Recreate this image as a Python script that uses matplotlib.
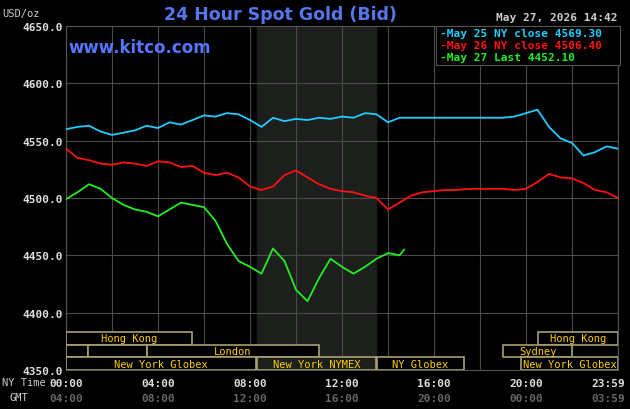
import matplotlib
matplotlib.use("Agg")
import matplotlib.pyplot as plt
from matplotlib.patches import Rectangle

h_full = [i*0.5 for i in range(49)]
cyan = [4560,4562,4563,4558,4555,4557,4559,4563,4561,4566,4564,4568,4572,4571,4574,4573,4568,4562,4570,4567,4569,4568,4570,4569,4571,4570,4574,4573,4566,4570,4570,4570,4570,4570,4570,4570,4570,4570,4570,4571,4574,4577,4562,4552,4548,4537,4540,4545,4543]
red = [4543,4535,4533,4530,4529,4531,4530,4528,4532,4531,4527,4528,4522,4520,4522,4518,4510,4507,4510,4520,4524,4518,4512,4508,4506,4505,4502,4500,4490,4496,4502,4505,4506,4507,4507,4508,4508,4508,4508,4507,4508,4514,4521,4518,4517,4513,4507,4505,4500]
h_green = [i*0.5 for i in range(30)] + [14.7]
green = [4499,4505,4512,4508,4500,4494,4490,4488,4484,4490,4496,4494,4492,4480,4460,4445,4440,4434,4456,4445,4420,4410,4430,4447,4440,4434,4440,4447,4452,4450,4455]
legend_labels = ["May 25 NY close 4569.30", "May 26 NY close 4506.40", "May 27 Last 4452.10"]
ny_ticks = ["00:00","04:00","08:00","12:00","16:00","20:00","23:59"]
gmt_ticks = ["04:00","08:00","12:00","16:00","20:00","00:00","03:59"]
sessions = [  # (row, start, end, label)
    (2, 0, 5.47, "Hong Kong"), (2, 20.5, 24, "Hong Kong"),
    (1, 0, 0.96, ""), (1, 0.96, 3.5, ""), (1, 3.5, 11.0, "London"), (1, 19.0, 22.0, "Sydney"),
    (0, 0, 8.25, "New York Globex"), (0, 8.3, 13.5, "New York NYMEX"),
    (0, 13.5, 17.3, "NY Globex"), (0, 19.8, 24, "New York Globex"),
]

mono = "DejaVu Sans Mono"
fig = plt.figure(figsize=(6.3, 4.1), dpi=100, facecolor="black")
ax = fig.add_axes([66/630, 1-371/410, 552/630, 344/410])
ax.set_facecolor("black")
ax.set_xlim(0, 24); ax.set_ylim(4350, 4650)
ax.axvspan(8.3, 13.5, color="#1c1f1c", zorder=0)
for x in range(0, 25, 2):
    ax.axvline(x, color="#4a4a4a", lw=0.8, zorder=1)
for y in range(4350, 4651, 50):
    ax.axhline(y, color="#4a4a4a", lw=0.8, zorder=1)
for s in ax.spines.values():
    s.set_color("#555555")
ax.plot(h_full, cyan, color="#22ccff", lw=1.3, zorder=3)
ax.plot(h_full, red, color="#ff1111", lw=1.3, zorder=3)
ax.plot(h_green, green, color="#22ee22", lw=1.3, zorder=3)

rowh = 11
for row, a, b, lab in sessions:
    y0 = 4350 + row*rowh
    ax.add_patch(Rectangle((a, y0), b-a, rowh, fill=True, facecolor="black" if not (8.3 <= a < 13.5) else "#1c1f1c",
                           edgecolor="#a8a070", lw=1.2, zorder=4))
    if lab:
        ax.text((a+b)/2, y0+rowh/2, lab, color="#ffcc00", fontsize=7.5, family=mono,
                ha="center", va="center", zorder=5)

ax.set_yticks(range(4350, 4651, 50))
ax.set_yticklabels([f"{v:.1f}" for v in range(4350, 4651, 50)], color="#dddddd",
                   fontsize=8, family=mono, fontweight="bold")
ax.set_xticks([0,4,8,12,16,20,24])
ax.set_xticklabels([])
ax.tick_params(length=0, pad=2)
for x, a, b in zip([0,4,8,12,16,20,24], ny_ticks, gmt_ticks):
    ha = "right" if x == 24 else "center"
    xx = 24.3 if x == 24 else x
    ax.text(xx, 4339, a, color="#dddddd", fontsize=8, family=mono, fontweight="bold", ha=ha, va="center", clip_on=False)
    ax.text(xx, 4326, b, color="#666666", fontsize=8, family=mono, fontweight="bold", ha=ha, va="center", clip_on=False)
fig.text(2/630, 1-383/410, "NY Time", color="#cccccc", fontsize=7.5, family=mono, va="center")
fig.text(10/630, 1-398/410, "GMT", color="#cccccc", fontsize=7.5, family=mono, va="center")
fig.text(2/630, 1-14/410, "USD/oz", color="#cccccc", fontsize=7.5, family=mono, va="center")
fig.text(280/630, 1-15/410, "24 Hour Spot Gold (Bid)", color="#5577ee", fontsize=12.5,
         family="DejaVu Sans", fontweight="bold", ha="center", va="center")
fig.text(68/630, 1-48/410, "www.kitco.com", color="#5577ff", fontsize=12,
         family="DejaVu Sans", fontweight="bold", va="center")
fig.text(617/630, 1-18/410, "May 27, 2026 14:42", color="#cccccc", fontsize=8, family=mono,
         fontweight="bold", ha="right", va="center")
fig.patches.append(Rectangle((436/630, 1-66/410), 184/630, 39/410, transform=fig.transFigure,
                             facecolor="black", edgecolor="#555555", lw=0.8, zorder=5))
for i, (lab, c) in enumerate(zip(legend_labels, ["#22ccff", "#ff1111", "#22ee22"])):
    fig.text(440/630, 1-(34+12*i)/410, "-" + lab, color=c, fontsize=8, family=mono,
             fontweight="bold", va="center", zorder=6)
fig.savefig("out.png", dpi=100, facecolor="black")
